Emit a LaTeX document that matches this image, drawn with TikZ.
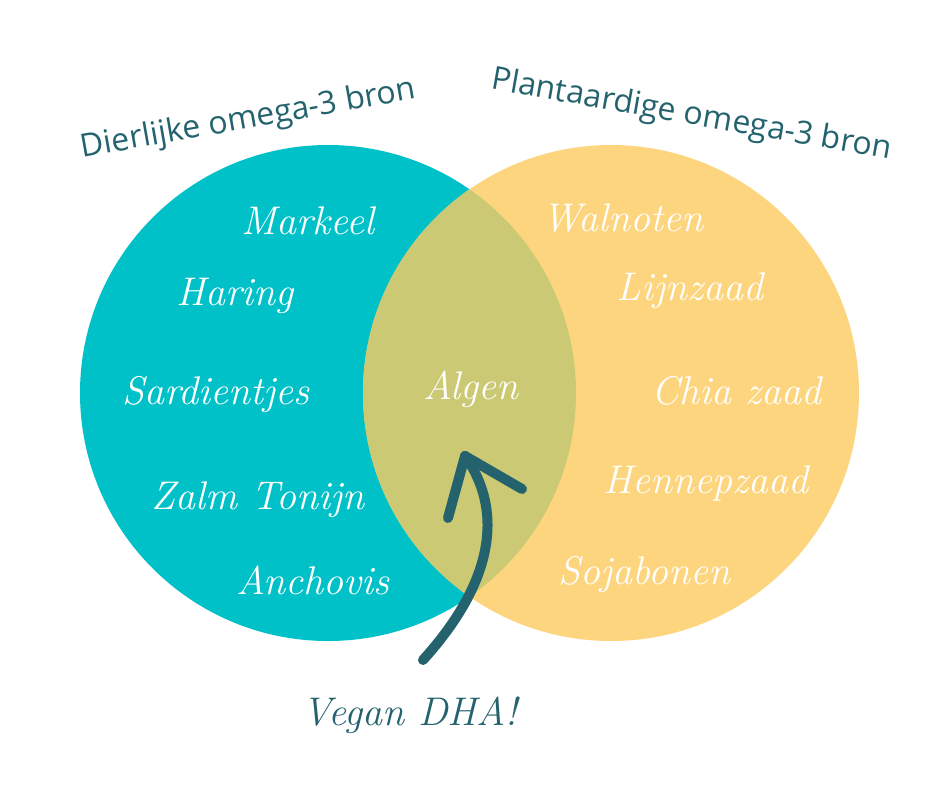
\documentclass[tikz,border=0pt]{standalone}
\usepackage{fontspec}
\setsansfont{Open Sans}
\usepackage{tikz}
\usetikzlibrary{positioning}
\definecolor{vis}{HTML}{00C1C8}
\definecolor{plant}{HTML}{FDD57E}
\definecolor{samen}{HTML}{CBC973}
\definecolor{donker}{HTML}{24636E}
\tikzset{
    x=1pt, y=-1pt, % one unit is one pixel of the picture, y runs downwards
    bron/.style={font=\sffamily\fontsize{32}{32}\selectfont, text=donker, anchor=base}, % titles above the circles
    soort/.style={font=\itshape\fontsize{40}{40}\selectfont, text=white, anchor=base}, % the sources inside the circles
    brush/.style={draw=donker, line width=10pt, line cap=round, line join=round}, % the hand drawn arrow
}
\begin{document}
\begin{tikzpicture}
\useasboundingbox (0,0) rectangle (940,788);
% the two circles and their overlap
\fill[vis] (328,393) circle[radius=248];
\fill[plant] (611,393) circle[radius=248];
\begin{scope}
  \clip (328,393) circle[radius=248];
  \fill[samen] (611,393) circle[radius=248];
\end{scope}
% titles
\node[bron, rotate=10] (dier) at (250,128) {Dierlijke omega-3 bron};
\node[bron, rotate=-10] (plantaardig) at (690,124) {Plantaardige omega-3 bron};
% animal sources
\node[soort] (markeel) at (308,234) {Markeel};
\node[soort] (haring) at (235,305) {Haring};
\node[soort] (sardientjes) at (216,404) {Sardientjes};
\node[soort] (zalm) at (258,509) {Zalm Tonijn};
\node[soort] (anchovis) at (313,594) {Anchovis};
% both
\node[soort] (algen) at (471,399) {Algen};
% plant sources
\node[soort] (walnoten) at (623,231) {Walnoten};
\node[soort] (lijnzaad) at (690,300) {Lijnzaad};
\node[soort] (chia) at (736,404) {Chia zaad};
\node[soort] (hennep) at (706,493) {Hennepzaad};
\node[soort] (soja) at (644,584) {Sojabonen};
% arrow to the algae
\node[soort, text=donker] (vegan) at (410,725) {Vegan DHA!};
\coordinate (staart) at (423,660);
\coordinate (punt) at (465,456);
\coordinate (links) at (448,518);
\coordinate (rechts) at (522,489);
\draw[brush] (staart) .. controls (500,575) and (500,505) .. (punt);
\draw[brush] (punt) -- (links);
\draw[brush] (punt) -- (rechts);
\end{tikzpicture}
\end{document}
